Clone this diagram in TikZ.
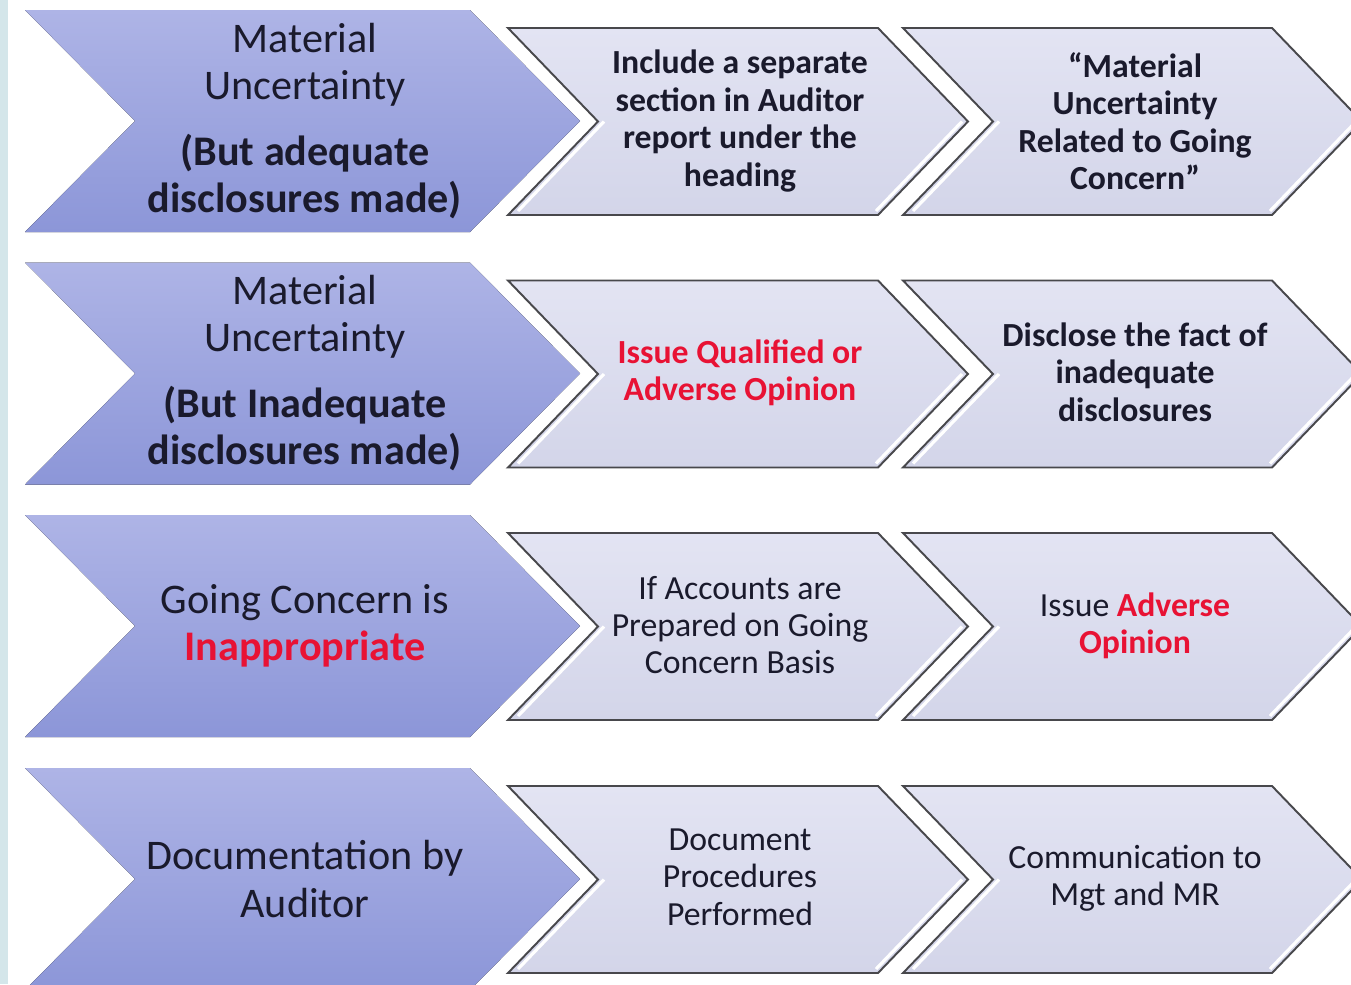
\documentclass[tikz,border=0pt]{standalone}
\usepackage{fontspec}
\setmainfont{Carlito}

\definecolor{leadtop}{RGB}{174,180,230}
\definecolor{leadbot}{RGB}{140,150,216}
\definecolor{steptop}{RGB}{227,228,243}
\definecolor{stepbot}{RGB}{211,213,233}
\definecolor{edge}{RGB}{72,72,76}
\definecolor{alert}{RGB}{232,18,52}
\definecolor{ink}{RGB}{26,26,44}
\definecolor{margin}{RGB}{212,230,234}

\begin{document}
\begin{tikzpicture}[x=0.02cm, y=-0.02cm,
  leadchev/.style={top color=leadtop, bottom color=leadbot},
  stepchev/.style={top color=steptop, bottom color=stepbot, draw=edge, line width=1.1pt},
  glint/.style={white, line width=1.8pt},
  leadtext/.style={align=center, text=ink, inner sep=0pt, font=\fontsize{24}{26.8}\selectfont},
  steptext/.style={align=center, text=ink, inner sep=0pt, font=\fontsize{19.2}{21.3}\selectfont},
  boldtext/.style={steptext, font=\fontsize{19.2}{21.3}\selectfont\bfseries}]

  \useasboundingbox (0,0) rectangle (1351,984);
  \clip (0,0) rectangle (1351,984);
  \fill[white] (0,0) rectangle (1351,984);
  \fill[margin] (0,0) rectangle (8,984);

  % Zeile 1
  \fill[leadchev] (25,10) -- ++(445,0) -- ++(110,111) -- ++(-110,111) -- ++(-445,0) -- ++(110,-111) -- cycle;
  \draw[stepchev] (508,28) -- ++(370,0) -- ++(90,93.5) -- ++(-90,93.5) -- ++(-370,0) -- ++(90,-93.5) -- cycle;
  \draw[glint] (604,121.5) -- ++(-86,89.5) (962,121.5) -- ++(-86,89.5);
  \draw[stepchev] (903,28) -- ++(369,0) -- ++(90,93.5) -- ++(-90,93.5) -- ++(-369,0) -- ++(90,-93.5) -- cycle;
  \draw[glint] (999,121.5) -- ++(-86,89.5) (1356,121.5) -- ++(-86,89.5);

  % Zeile 2
  \fill[leadchev] (25,262.5) -- ++(445,0) -- ++(110,111) -- ++(-110,111) -- ++(-445,0) -- ++(110,-111) -- cycle;
  \draw[stepchev] (508,280.5) -- ++(370,0) -- ++(90,93.5) -- ++(-90,93.5) -- ++(-370,0) -- ++(90,-93.5) -- cycle;
  \draw[glint] (604,374) -- ++(-86,89.5) (962,374) -- ++(-86,89.5);
  \draw[stepchev] (903,280.5) -- ++(369,0) -- ++(90,93.5) -- ++(-90,93.5) -- ++(-369,0) -- ++(90,-93.5) -- cycle;
  \draw[glint] (999,374) -- ++(-86,89.5) (1356,374) -- ++(-86,89.5);

  % Zeile 3
  \fill[leadchev] (25,515) -- ++(445,0) -- ++(110,111) -- ++(-110,111) -- ++(-445,0) -- ++(110,-111) -- cycle;
  \draw[stepchev] (508,533) -- ++(370,0) -- ++(90,93.5) -- ++(-90,93.5) -- ++(-370,0) -- ++(90,-93.5) -- cycle;
  \draw[glint] (604,626.5) -- ++(-86,89.5) (962,626.5) -- ++(-86,89.5);
  \draw[stepchev] (903,533) -- ++(369,0) -- ++(90,93.5) -- ++(-90,93.5) -- ++(-369,0) -- ++(90,-93.5) -- cycle;
  \draw[glint] (999,626.5) -- ++(-86,89.5) (1356,626.5) -- ++(-86,89.5);

  % Zeile 4
  \fill[leadchev] (25,768) -- ++(445,0) -- ++(110,111) -- ++(-110,111) -- ++(-445,0) -- ++(110,-111) -- cycle;
  \draw[stepchev] (508,786) -- ++(370,0) -- ++(90,93.5) -- ++(-90,93.5) -- ++(-370,0) -- ++(90,-93.5) -- cycle;
  \draw[glint] (604,879.5) -- ++(-86,89.5) (962,879.5) -- ++(-86,89.5);
  \draw[stepchev] (903,786) -- ++(369,0) -- ++(90,93.5) -- ++(-90,93.5) -- ++(-369,0) -- ++(90,-93.5) -- cycle;
  \draw[glint] (999,879.5) -- ++(-86,89.5) (1356,879.5) -- ++(-86,89.5);

  % Texte
  \node[leadtext] (case1) at (305,121) {Material\\Uncertainty\\[0.38cm]\textbf{(But adequate}\\\textbf{disclosures made)}};
  \node[boldtext] (act1) at (740,121) {Include a separate\\section in Auditor\\report under the\\heading};
  \node[boldtext] (res1) at (1135,121) {“Material\\Uncertainty\\Related to Going\\Concern”};

  \node[leadtext] (case2) at (305,373) {Material\\Uncertainty\\[0.38cm]\textbf{(But Inadequate}\\\textbf{disclosures made)}};
  \node[boldtext, text=alert] (act2) at (740,373) {Issue Qualified or\\Adverse Opinion};
  \node[boldtext] (res2) at (1135,372) {Disclose the fact of\\inadequate\\disclosures};

  \node[leadtext] (case3) at (305,626) {Going Concern is\\\textcolor{alert}{\textbf{Inappropriate}}};
  \node[steptext] (act3) at (740,625) {If Accounts are\\Prepared on Going\\Concern Basis};
  \node[steptext] (res3) at (1135,626) {Issue \textcolor{alert}{\textbf{Adverse}}\\\textcolor{alert}{\textbf{Opinion}}};

  \node[leadtext] (case4) at (305,879) {Documentation by\\Auditor};
  \node[steptext] (act4) at (740,877) {Document\\Procedures\\Performed};
  \node[steptext] (res4) at (1135,878) {Communication to\\Mgt and MR};
\end{tikzpicture}
\end{document}
